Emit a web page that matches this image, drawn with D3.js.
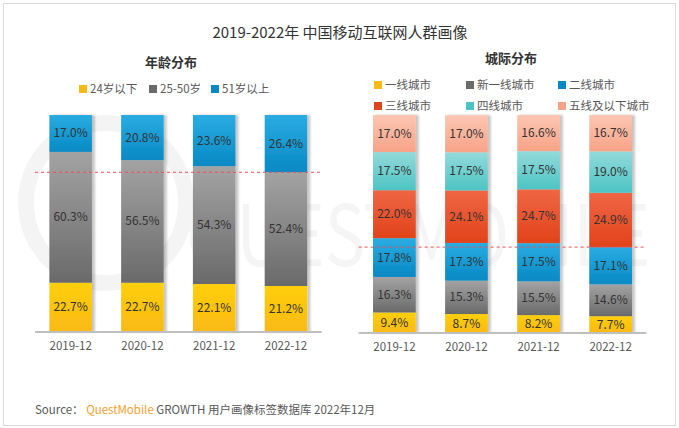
<!DOCTYPE html>
<html>
<head>
<meta charset="utf-8">
<script src="https://cdn.jsdelivr.net/npm/d3@7"></script>
<style>
  body { margin: 0; background: #fff; }
  text { font-family: "Noto Sans CJK SC", "Noto Sans", sans-serif; }
</style>
</head>
<body>
<svg id="chart"></svg>
<script>
// data
const periods = ["2019-12", "2020-12", "2021-12", "2022-12"];

const ageGroups = ["24岁以下", "25-50岁", "51岁以上"];
const ageUnder24 = [22.7, 22.7, 22.1, 21.2];
const age25to50 = [60.3, 56.5, 54.3, 52.4];
const ageOver51 = [17.0, 20.8, 23.6, 26.4];

const cityTiers = ["一线城市", "新一线城市", "二线城市", "三线城市", "四线城市", "五线及以下城市"];
const tier1 = [9.4, 8.7, 8.2, 7.7];
const tierNew1 = [16.3, 15.3, 15.5, 14.6];
const tier2 = [17.8, 17.3, 17.5, 17.1];
const tier3 = [22.0, 24.1, 24.7, 24.9];
const tier4 = [17.5, 17.5, 17.5, 19.0];
const tier5 = [17.0, 17.0, 16.6, 16.7];

const width = 679, height = 428;

const svg = d3.select("#chart")
    .attr("width", width)
    .attr("height", height);

const defs = svg.append("defs");

// colour pairs: top of segment, bottom of segment
const palette = {
    yellow: ["#ffcf0a", "#f9b915"],
    gray:   ["#a3a3a3", "#6a6a6a"],
    blue:   ["#2aace2", "#0789c4"],
    red:    ["#ef6644", "#e1431b"],
    teal:   ["#93dada", "#4dc4c4"],
    salmon: ["#fdc6b3", "#f7a387"]
};

Object.keys(palette).forEach(function(k) {
    let g = defs.append("linearGradient")
        .attr("id", "grad-" + k)
        .attr("x1", 0).attr("y1", 0).attr("x2", 0).attr("y2", 1);
    g.append("stop").attr("offset", "0%").attr("stop-color", palette[k][0]);
    g.append("stop").attr("offset", "100%").attr("stop-color", palette[k][1]);
});

let shadow = defs.append("filter")
    .attr("id", "shadow")
    .attr("x", "-20%").attr("y", "-5%").attr("width", "150%").attr("height", "110%");
shadow.append("feDropShadow")
    .attr("dx", 3).attr("dy", 0).attr("stdDeviation", 1.2)
    .attr("flood-color", "#000").attr("flood-opacity", 0.22);

// outer frame
svg.append("rect")
    .attr("x", 3.5).attr("y", 3.5)
    .attr("width", 672).attr("height", 422)
    .attr("fill", "#fff")
    .attr("stroke", "#d9d9d9");

// faint watermark behind the bars
svg.append("circle")
    .attr("cx", 106).attr("cy", 203).attr("r", 80)
    .attr("fill", "none")
    .attr("stroke", "#f4f4f4")
    .attr("stroke-width", 16);
svg.append("text")
    .attr("x", 186).attr("y", 266)
    .attr("fill", "#f5f5f5")
    .attr("font-size", 84)
    .attr("font-family", "Lato, sans-serif")
    .attr("textLength", 464)
    .attr("lengthAdjust", "spacingAndGlyphs")
    .text("QUESTMOBILE");

svg.append("text")
    .attr("x", 340).attr("y", 38)
    .attr("text-anchor", "middle")
    .attr("font-size", 15)
    .attr("fill", "#333")
    .text("2019-2022年 中国移动互联网人群画像");

function drawPanel(cfg) {
    let g = svg.append("g");

    g.append("text")
        .attr("x", cfg.titleX).attr("y", cfg.titleY)
        .attr("text-anchor", "middle")
        .attr("font-size", 13)
        .attr("font-weight", "bold")
        .attr("fill", "#333")
        .text(cfg.title);

    // legend
    cfg.series.forEach(function(s, i) {
        let pos = cfg.legendPos[i];
        let lg = g.append("g").attr("transform", `translate(${pos[0]},${pos[1]})`);
        lg.append("rect")
            .attr("x", 0).attr("y", -4)
            .attr("width", 8).attr("height", 8)
            .attr("fill", palette[s.color][1]);
        lg.append("text")
            .attr("x", 11).attr("y", 4)
            .attr("font-size", 11.5)
            .attr("fill", "#595959")
            .text(s.name);
    });

    let xScale = d3.scaleBand()
        .domain(periods)
        .range([cfg.x0, cfg.x1])
        .paddingInner(0.407)
        .paddingOuter(0.2);

    let yScale = d3.scaleLinear()
        .domain([0, 100])
        .range([cfg.yBottom, cfg.yTop]);

    let stackData = periods.map(function(p, i) {
        let row = { period: p };
        cfg.series.forEach(function(s) { row[s.name] = s.values[i]; });
        return row;
    });
    let stacked = d3.stack().keys(cfg.series.map(s => s.name))(stackData);

    let barGroups = g.selectAll(".bar-group")
        .data(periods)
        .enter()
        .append("g")
        .attr("class", "bar-group")
        .attr("filter", "url(#shadow)");

    barGroups.each(function(p, i) {
        let bg = d3.select(this);
        stacked.forEach(function(layer, si) {
            let d = layer[i];
            bg.append("rect")
                .attr("x", xScale(p))
                .attr("y", yScale(d[1]))
                .attr("width", xScale.bandwidth())
                .attr("height", yScale(d[0]) - yScale(d[1]))
                .attr("fill", "url(#grad-" + cfg.series[si].color + ")");
        });
    });

    stacked.forEach(function(layer, si) {
        g.selectAll(".lbl-" + si)
            .data(layer)
            .enter()
            .append("text")
            .attr("x", (d, i) => xScale(periods[i]) + xScale.bandwidth() / 2)
            .attr("y", d => (yScale(d[0]) + yScale(d[1])) / 2 + 4)
            .attr("text-anchor", "middle")
            .attr("font-size", 12)
            .attr("fill", "#333")
            .text(d => (d[1] - d[0]).toFixed(1) + "%");
    });

    // x axis
    let xAxis = d3.axisBottom(xScale).tickSize(0).tickPadding(10);
    let axisG = g.append("g")
        .attr("transform", `translate(0,${cfg.yBottom})`)
        .call(xAxis);
    axisG.select(".domain")
        .attr("d", `M${cfg.x0},0H${cfg.x1}`)
        .attr("stroke", "#bfbfbf")
        .attr("stroke-width", 2);
    axisG.selectAll("text")
        .attr("font-size", 11.5)
        .attr("fill", "#595959")
        .attr("font-family", "\"Open Sans\", \"Noto Sans\", sans-serif");

    // dashed reference line at the latest period's boundary
    let last = stacked[cfg.refLayer][periods.length - 1][1];
    g.append("line")
        .attr("x1", cfg.x0).attr("x2", cfg.x1)
        .attr("y1", yScale(last)).attr("y2", yScale(last))
        .attr("stroke", "#f05050")
        .attr("stroke-width", 1)
        .attr("stroke-dasharray", "3,3");
}

drawPanel({
    title: "年龄分布", titleX: 171, titleY: 67,
    x0: 35, x1: 321.6, yTop: 115, yBottom: 332,
    refLayer: 1,
    legendPos: [[79, 89], [149, 89], [211, 89]],
    series: [
        { name: ageGroups[0], values: ageUnder24, color: "yellow" },
        { name: ageGroups[1], values: age25to50, color: "gray" },
        { name: ageGroups[2], values: ageOver51, color: "blue" }
    ]
});

drawPanel({
    title: "城际分布", titleX: 511, titleY: 63,
    x0: 358.6, x1: 646.4, yTop: 115, yBottom: 333,
    refLayer: 2,
    legendPos: [[374, 85], [466, 85], [558, 85], [374, 106], [466, 106], [558, 106]],
    series: [
        { name: cityTiers[0], values: tier1, color: "yellow" },
        { name: cityTiers[1], values: tierNew1, color: "gray" },
        { name: cityTiers[2], values: tier2, color: "blue" },
        { name: cityTiers[3], values: tier3, color: "red" },
        { name: cityTiers[4], values: tier4, color: "teal" },
        { name: cityTiers[5], values: tier5, color: "salmon" }
    ]
});

// source line
let src = svg.append("text")
    .attr("x", 35).attr("y", 414)
    .attr("font-size", 11.5)
    .attr("fill", "#595959");
src.append("tspan").text("Source： ");
src.append("tspan").attr("fill", "#f7a02d").text("QuestMobile");
src.append("tspan").text(" GROWTH 用户画像标签数据库 2022年12月");
</script>
</body>
</html>
